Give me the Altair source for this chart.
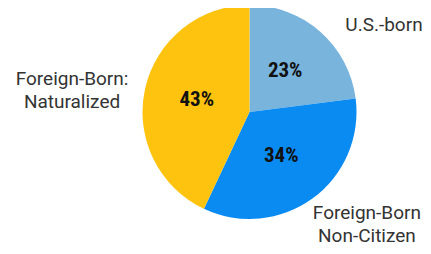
import altair as alt
import pandas as pd

categories = ["U.S.-born", "Foreign-Born Non-Citizen", "Foreign-Born: Naturalized"]
shares = [23, 34, 43]
pct_labels = ["23%", "34%", "43%"]
outer_labels = ["U.S.-born", "Foreign-Born\nNon-Citizen", "Foreign-Born:\nNaturalized"]
colors = ["#79b4dd", "#0a8bf2", "#fdc30f"]

df = pd.DataFrame({
    "category": categories,
    "share": shares,
    "pct": pct_labels,
    "label": outer_labels,
    "idx": list(range(len(categories))),
})

theta_scale = alt.Scale(domain=[0, 100])

base = alt.Chart(df).transform_window(
    cum="sum(share)", sort=[alt.SortField("idx")], frame=[None, 0]
).transform_calculate(
    start="datum.cum - datum.share",
    mid="datum.cum - datum.share / 2",
)

pie = base.mark_arc(stroke=None).encode(
    theta=alt.Theta("start:Q", scale=theta_scale),
    theta2="cum:Q",
    radius=alt.value(107),
    color=alt.Color("category:N", scale=alt.Scale(domain=categories, range=colors), legend=None),
)

pct = base.mark_text(
    font="Roboto Condensed, Liberation Sans Narrow, DejaVu Sans Condensed",
    fontWeight="bold", fontSize=21, color="#111111", align="center", baseline="middle",
).encode(
    theta=alt.Theta("mid:Q", scale=theta_scale),
    radius=alt.value(54),
    text="pct:N",
)

offsets = {
    "U.S.-born": (48.5, 11),
    "Foreign-Born Non-Citizen": (41, -4),
    "Foreign-Born: Naturalized": (-50.6, -4.6),
}

outer_layers = []
for cat in categories:
    dx, dy = offsets[cat]
    outer_layers.append(
        base.transform_filter(alt.datum.category == cat).mark_text(
            font="Roboto", fontSize=19, color="#333333", align="center", baseline="middle",
            lineBreak="\n", lineHeight=23, dx=dx, dy=dy,
        ).encode(
            theta=alt.Theta("mid:Q", scale=theta_scale),
            radius=alt.value(130),
            text="label:N",
        )
    )

chart = alt.layer(pie, pct, *outer_layers).properties(
    width=347,
    height=208,
    autosize=alt.AutoSizeParams(type="none"),
    padding={"left": 68, "top": 0, "right": 0, "bottom": 30},
).configure_view(stroke=None)

chart.save("out.html", embed_options={"renderer": "svg", "actions": False})
